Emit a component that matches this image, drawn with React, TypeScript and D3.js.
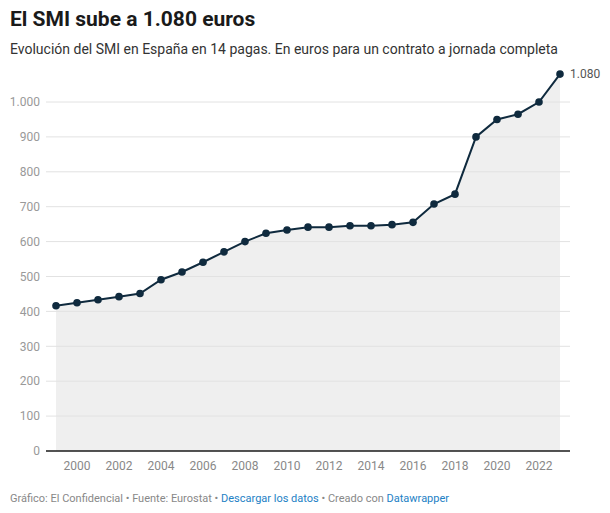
import React from "react";
import * as d3 from "d3";

const years = [1999,2000,2001,2002,2003,2004,2005,2006,2007,2008,2009,2010,2011,2012,2013,2014,2015,2016,2017,2018,2019,2020,2021,2022,2023];
const smi = [416.32,424.8,433.45,442.2,451.2,490.8,513,540.9,570.6,600,624,633.3,641.4,641.4,645.3,645.3,648.6,655.2,707.6,735.9,900,950,965,1000,1080];
const yTicks = [0,100,200,300,400,500,600,700,800,900,1000];
const xTicks = [2000,2002,2004,2006,2008,2010,2012,2014,2016,2018,2020,2022];

const W = 610, H = 513;
const fmt = (v: number) => v >= 1000 ? d3.format(",")(v).replace(/,/g, ".") : String(v);

export default function App() {
  const x = d3.scaleLinear().domain([1999, 2023]).range([56, 560]);
  const y = d3.scaleLinear().domain([0, 1000]).range([451, 102]);
  const data = years.map((yr, i) => ({ yr, v: smi[i] }));
  const line = d3.line<{ yr: number; v: number }>().x(d => x(d.yr)).y(d => y(d.v));
  const area = d3.area<{ yr: number; v: number }>().x(d => x(d.yr)).y0(y(0)).y1(d => y(d.v));
  const font = "Roboto, sans-serif";
  const last = data[data.length - 1];
  return (
    <svg width={W} height={H} style={{ position: "absolute", left: 0, top: 0 }} fontFamily={font}>
      <text x={10} y={26} fontSize={21} fontWeight={700} fill="#1a1a1a">El SMI sube a 1.080 euros</text>
      <text x={10} y={54} fontSize={14} fill="#333">Evolución del SMI en España en 14 pagas. En euros para un contrato a jornada completa</text>
      <path d={area(data) || ""} fill="#efefef" />
      {yTicks.map(t => (
        <g key={t}>
          {t > 0 && <line x1={46} x2={570} y1={y(t)} y2={y(t)} stroke="#e2e2e2" strokeWidth={1} />}
          <text x={40} y={y(t)} dy="0.35em" textAnchor="end" fontSize={12} fill="#999">{fmt(t)}</text>
        </g>
      ))}
      <line x1={46} x2={570} y1={y(0)} y2={y(0)} stroke="#1a1a1a" strokeWidth={1.5} />
      {xTicks.map(t => (
        <text key={t} x={x(t)} y={470} textAnchor="middle" fontSize={12} fill="#888">{t}</text>
      ))}
      <path d={line(data) || ""} fill="none" stroke="#0f2a3e" strokeWidth={2} />
      {data.map(d => (
        <circle key={d.yr} cx={x(d.yr)} cy={y(d.v)} r={3.8} fill="#0f2a3e" />
      ))}
      <text x={x(last.yr) + 10} y={y(last.v)} dy="0.35em" fontSize={12} fill="#555">{fmt(last.v)}</text>
      <text x={10} y={502} fontSize={11} fill="#888">
        Gráfico: El Confidencial • Fuente: Eurostat • <tspan fill="#1d81c5">Descargar los datos</tspan> • Creado con <tspan fill="#1d81c5">Datawrapper</tspan>
      </text>
    </svg>
  );
}
